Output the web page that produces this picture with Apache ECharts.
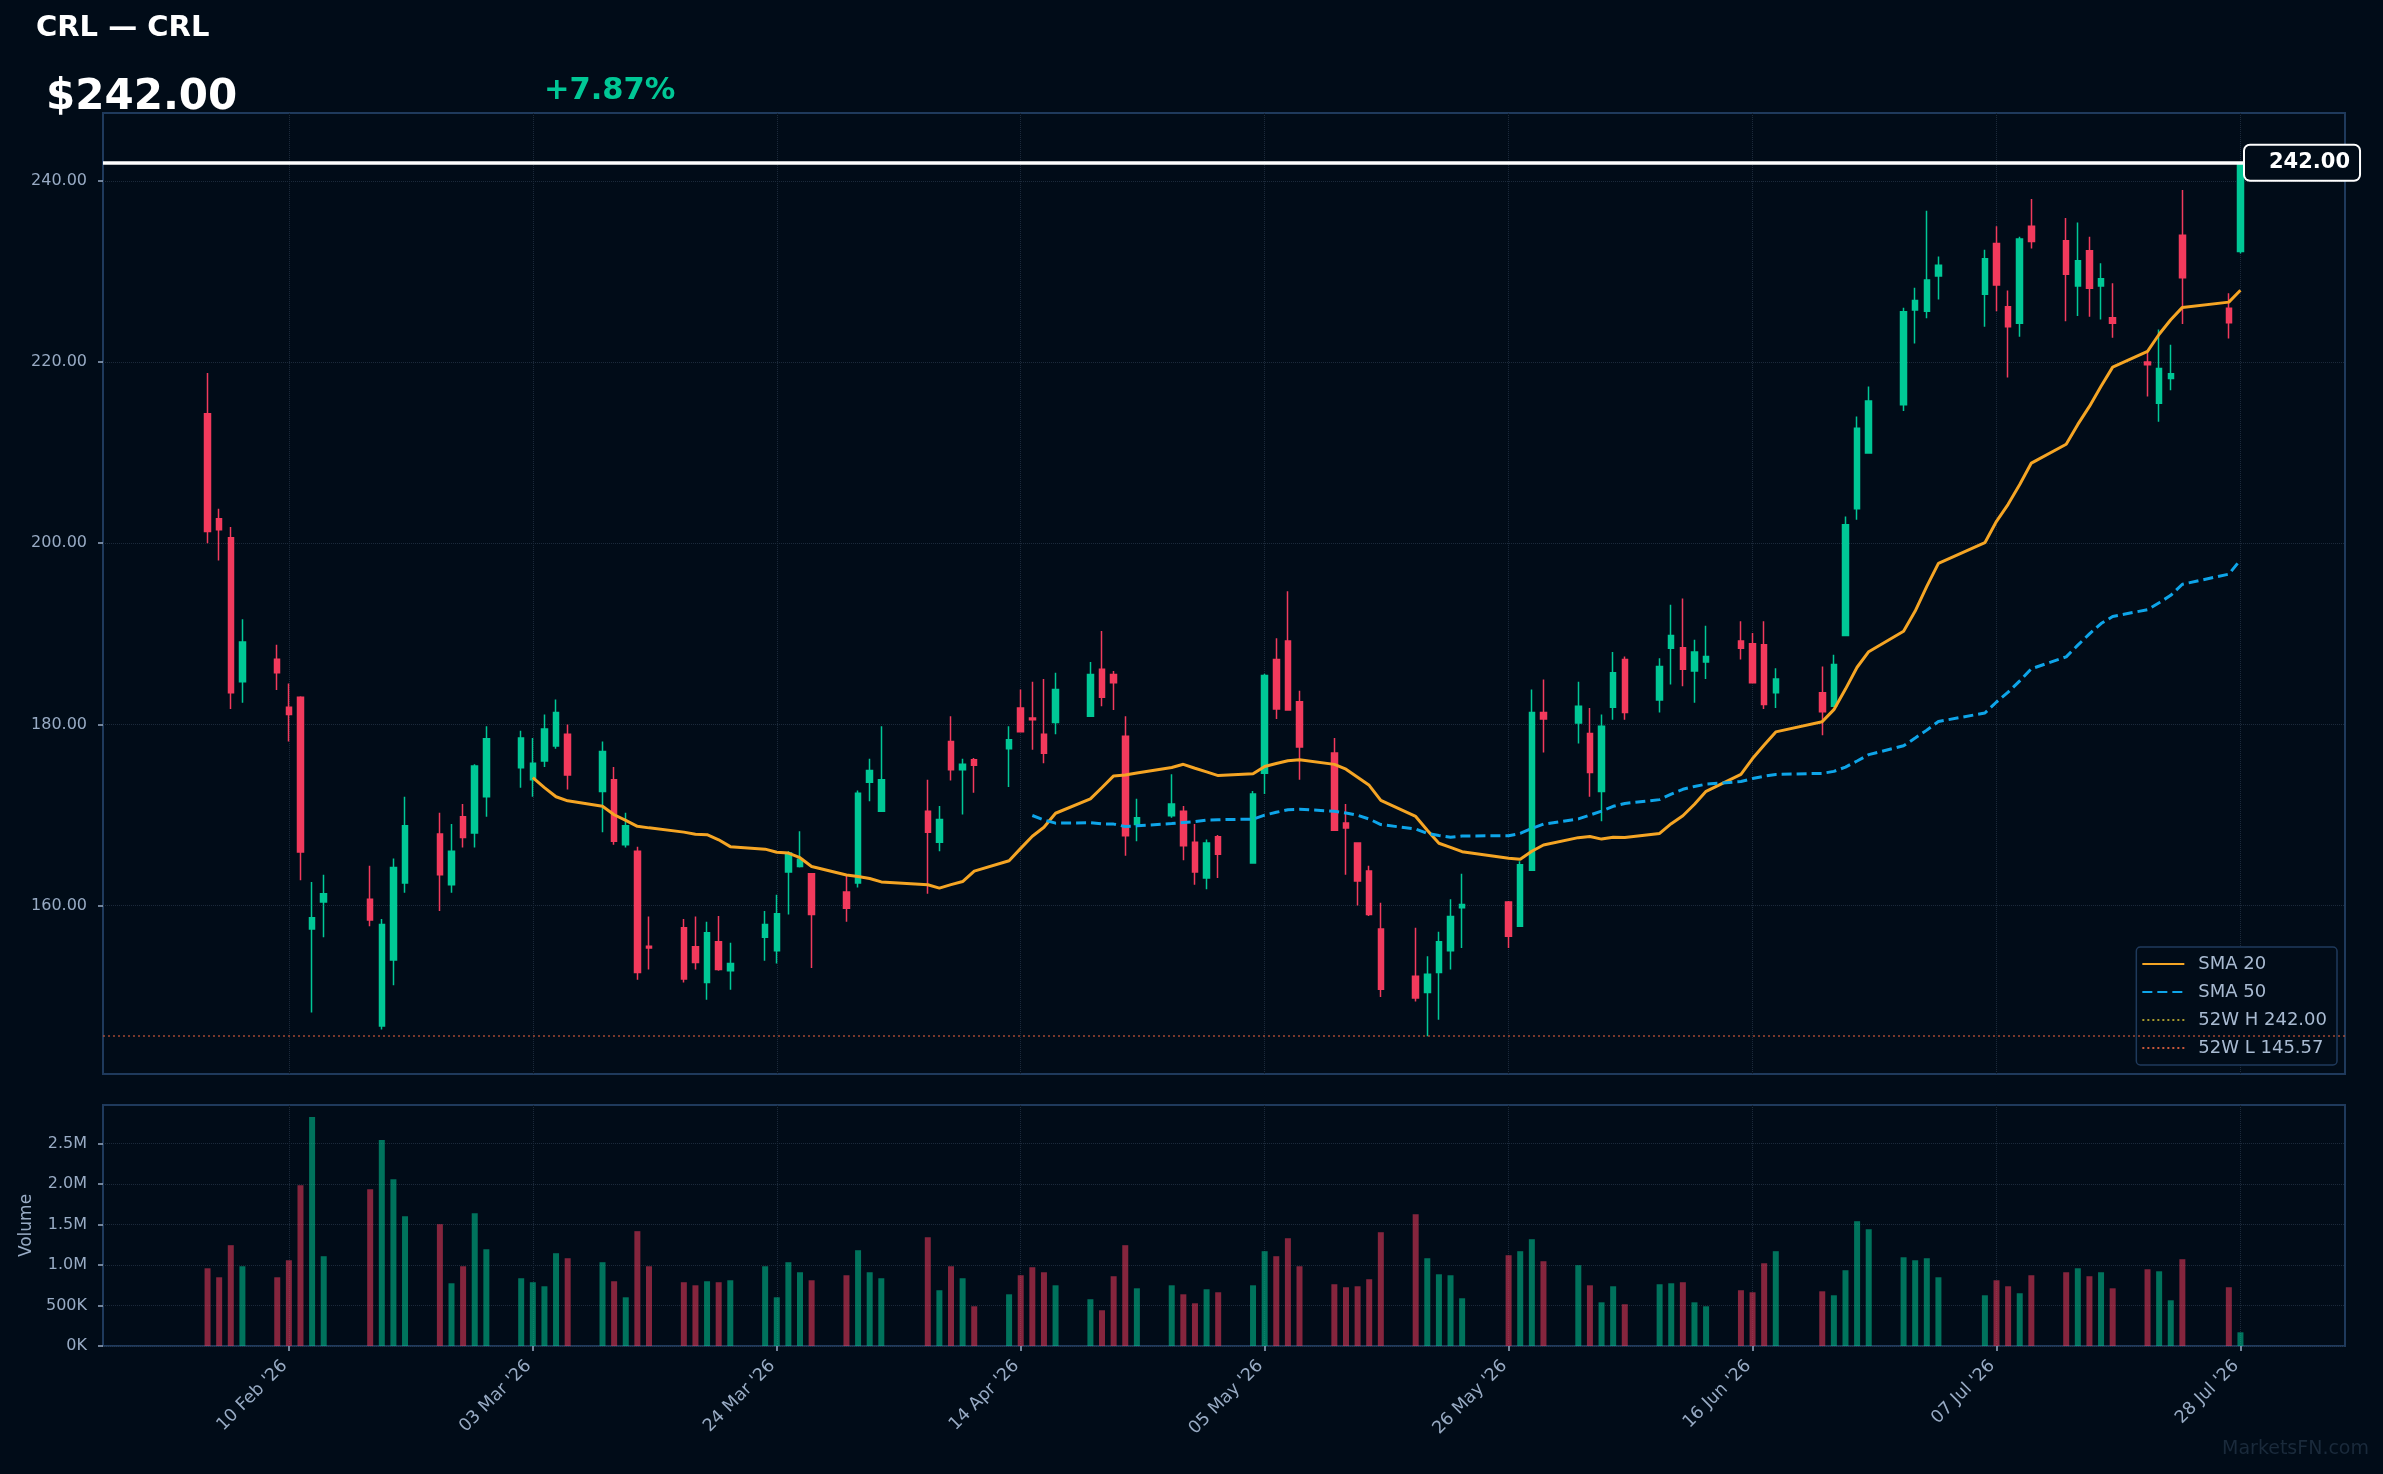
<!DOCTYPE html>
<html>
<head>
<meta charset="utf-8">
<script src="https://cdn.jsdelivr.net/npm/echarts@6/dist/echarts.min.js"></script>
<style>
  html, body { margin: 0; padding: 0; background: #010c18; }
  #main { width: 2383px; height: 1474px; }
</style>
</head>
<body>
<div id="main"></div>
<script>
// trading days shown on the chart
var dates = [
  '2026-02-03','2026-02-04','2026-02-05','2026-02-06',
  '2026-02-09','2026-02-10','2026-02-11','2026-02-12','2026-02-13',
  '2026-02-17','2026-02-18','2026-02-19','2026-02-20',
  '2026-02-23','2026-02-24','2026-02-25','2026-02-26','2026-02-27',
  '2026-03-02','2026-03-03','2026-03-04','2026-03-05','2026-03-06',
  '2026-03-09','2026-03-10','2026-03-11','2026-03-12','2026-03-13',
  '2026-03-16','2026-03-17','2026-03-18','2026-03-19','2026-03-20',
  '2026-03-23','2026-03-24','2026-03-25','2026-03-26','2026-03-27',
  '2026-03-30','2026-03-31','2026-04-01','2026-04-02',
  '2026-04-06','2026-04-07','2026-04-08','2026-04-09','2026-04-10',
  '2026-04-13','2026-04-14','2026-04-15','2026-04-16','2026-04-17',
  '2026-04-20','2026-04-21','2026-04-22','2026-04-23','2026-04-24',
  '2026-04-27','2026-04-28','2026-04-29','2026-04-30','2026-05-01',
  '2026-05-04','2026-05-05','2026-05-06','2026-05-07','2026-05-08',
  '2026-05-11','2026-05-12','2026-05-13','2026-05-14','2026-05-15',
  '2026-05-18','2026-05-19','2026-05-20','2026-05-21','2026-05-22',
  '2026-05-26','2026-05-27','2026-05-28','2026-05-29',
  '2026-06-01','2026-06-02','2026-06-03','2026-06-04','2026-06-05',
  '2026-06-08','2026-06-09','2026-06-10','2026-06-11','2026-06-12',
  '2026-06-15','2026-06-16','2026-06-17','2026-06-18',
  '2026-06-22','2026-06-23','2026-06-24','2026-06-25','2026-06-26',
  '2026-06-29','2026-06-30','2026-07-01','2026-07-02',
  '2026-07-06','2026-07-07','2026-07-08','2026-07-09','2026-07-10',
  '2026-07-13','2026-07-14','2026-07-15','2026-07-16','2026-07-17',
  '2026-07-20','2026-07-21','2026-07-22','2026-07-23',
  '2026-07-27','2026-07-28'
];

var opens = [
  214.3, 202.7, 200.6, 184.7, 187.2, 181.9, 183.0, 157.4, 160.4, 160.7,
  146.7, 154.0, 162.5, 167.9, 162.3, 169.8, 168.0, 172.0, 175.2, 173.9,
  175.95, 177.6, 178.9, 172.6, 173.9, 166.7, 166.0, 155.5, 157.55, 155.45,
  151.5, 156.0, 152.8, 156.5, 155.0, 163.7, 164.3, 163.5, 161.5, 162.5,
  173.6, 170.4, 170.4, 167.0, 178.1, 175.0, 176.1, 177.3, 181.8, 180.7,
  178.9, 180.2, 180.9, 186.1, 185.5, 178.7, 168.95, 169.9, 170.4, 167.0,
  163.05, 167.6, 164.7, 174.6, 187.15, 189.2, 182.5, 176.85, 169.1, 166.9,
  163.8, 157.4, 152.2, 150.4, 152.6, 155.0, 159.75, 160.4, 157.7, 163.9,
  181.3, 180.15, 179.0, 172.6, 181.9, 187.15, 182.7, 188.4, 188.45, 185.9,
  186.9, 189.2, 188.9, 188.8, 183.5, 183.5, 182.0, 189.8, 203.8, 209.95,
  215.3, 225.75, 225.6, 229.5, 227.5, 233.1, 226.1, 224.3, 235.0, 233.4,
  228.4, 232.3, 228.4, 224.9, 220.0, 215.45, 218.2, 234.0, 225.95, 232.2
];

var closes = [
  201.3, 201.5, 183.5, 189.1, 185.7, 181.1, 165.9, 158.65, 161.3, 158.4,
  157.9, 164.2, 168.8, 163.4, 166.0, 167.5, 175.4, 178.4, 178.5, 175.7,
  179.5, 181.3, 174.4, 177.0, 167.1, 168.8, 152.6, 155.3, 151.9, 153.7,
  157.0, 152.95, 153.6, 157.9, 159.1, 165.8, 165.1, 159.0, 159.7, 172.4,
  174.9, 173.9, 168.1, 169.5, 175.0, 175.6, 175.5, 178.3, 179.2, 180.5,
  176.8, 183.85, 185.5, 183.0, 184.6, 167.7, 169.7, 171.2, 166.6, 163.7,
  166.9, 165.65, 172.3, 185.4, 181.7, 181.6, 177.5, 168.3, 168.55, 162.7,
  159.0, 150.75, 149.8, 152.4, 156.0, 158.8, 160.1, 156.6, 164.5, 181.3,
  180.6, 182.0, 174.7, 179.8, 185.7, 181.3, 186.4, 189.8, 186.1, 188.0,
  187.5, 188.4, 184.6, 182.2, 185.0, 181.4, 186.6, 202.05, 212.7, 215.7,
  225.55, 226.8, 229.05, 230.7, 231.4, 228.5, 223.9, 233.6, 233.3, 229.7,
  231.2, 228.15, 229.2, 224.3, 219.7, 219.3, 218.7, 229.3, 224.35, 242.0
];

var lows = [
  200.0, 198.1, 181.7, 182.4, 183.8, 178.1, 162.8, 148.2, 156.5, 157.7,
  146.3, 151.2, 161.4, 159.4, 161.4, 166.4, 166.4, 169.8, 173.0, 172.0,
  175.3, 177.3, 172.8, 168.1, 166.7, 166.4, 151.8, 152.95, 151.5, 152.95,
  149.6, 152.8, 150.7, 153.9, 153.6, 159.0, 164.2, 153.1, 158.2, 162.0,
  171.5, 170.4, 161.3, 166.0, 173.8, 170.05, 172.45, 173.1, 179.1, 177.2,
  175.7, 178.9, 180.9, 182.0, 181.6, 165.5, 167.1, 169.7, 165.0, 162.3,
  161.8, 163.05, 164.7, 172.3, 180.6, 181.6, 173.9, 168.3, 163.4, 160.0,
  158.85, 149.9, 149.4, 145.57, 147.4, 152.95, 155.3, 155.3, 157.7, 163.9,
  176.9, 177.9, 172.0, 169.3, 180.5, 180.5, 181.3, 184.4, 184.2, 182.4,
  185.0, 187.15, 184.5, 181.7, 181.8, 178.8, 182.0, 189.8, 202.6, 209.95,
  214.6, 222.05, 224.85, 226.9, 223.9, 225.6, 218.3, 222.8, 232.55, 224.5,
  225.1, 225.0, 224.7, 222.7, 216.2, 213.4, 216.9, 224.2, 222.6, 232.0
];

var highs = [
  218.8, 203.8, 201.8, 191.6, 188.8, 184.5, 183.1, 162.6, 163.4, 164.4,
  158.5, 165.2, 172.0, 170.25, 169.0, 171.2, 175.6, 179.8, 179.3, 178.5,
  181.1, 182.75, 180.0, 178.1, 175.3, 170.25, 166.5, 158.8, 158.5, 158.8,
  158.2, 158.85, 155.9, 159.4, 161.2, 166.0, 168.2, 163.6, 163.3, 172.7,
  176.2, 179.8, 173.9, 171.0, 180.9, 176.2, 176.3, 179.8, 183.85, 184.7,
  185.0, 185.7, 186.9, 190.3, 185.9, 180.9, 171.8, 174.5, 171.0, 169.0,
  167.3, 167.8, 172.65, 185.6, 189.5, 194.7, 183.7, 178.5, 171.2, 167.0,
  164.4, 160.3, 157.55, 154.4, 157.1, 160.7, 163.5, 160.5, 164.9, 183.85,
  184.95, 184.7, 181.8, 181.1, 188.0, 187.5, 187.3, 193.2, 193.9, 189.35,
  190.9, 191.4, 190.1, 191.4, 186.2, 186.4, 187.7, 202.95, 214.0, 217.3,
  226.0, 228.2, 236.7, 231.65, 232.4, 235.0, 227.9, 233.85, 238.0, 235.9,
  235.4, 233.85, 230.9, 228.7, 221.1, 223.6, 221.9, 239.0, 227.6, 242.0
];

var volumes = [
  959000, 848000, 1244000, 984000, 848000, 1058000, 1985000, 2825000, 1108000, 1935000,
  2541000, 2059000, 1602000, 1503000, 774000, 984000, 1639000, 1194000, 836000, 787000,
  737000, 1145000, 1083000, 1034000, 799000, 601000, 1417000, 984000, 787000, 749000,
  799000, 787000, 811000, 984000, 601000, 1034000, 910000, 811000, 873000, 1182000,
  910000, 836000, 1342000, 688000, 984000, 836000, 490000, 638000, 873000, 972000,
  910000, 749000, 577000, 441000, 861000, 1244000, 712000, 749000, 638000, 527000,
  700000, 663000, 749000, 1170000, 1108000, 1330000, 984000, 762000, 725000, 737000,
  824000, 1404000, 1627000, 1083000, 885000, 873000, 589000, 1120000, 1170000, 1318000,
  1046000, 997000, 749000, 539000, 737000, 515000, 762000, 774000, 787000, 539000,
  490000, 688000, 663000, 1021000, 1170000, 675000, 626000, 935000, 1540000, 1441000,
  1095000, 1058000, 1083000, 848000, 626000, 811000, 737000, 651000, 873000, 910000,
  959000, 861000, 910000, 712000, 947000, 922000, 564000, 1071000, 725000, 169000
];

var tickDates = ['2026-02-10','2026-03-03','2026-03-24','2026-04-14','2026-05-05',
                 '2026-05-26','2026-06-16','2026-07-07','2026-07-28'];
var priceTicks = [160, 180, 200, 220, 240];
var volumeTicks = [0, 500000, 1000000, 1500000, 2000000, 2500000];

var ticker = 'CRL';
var lastPrice = 242.00;
var changePct = 7.87;
var high52 = 242.00;
var low52 = 145.57;

var upColor = '#00c896';
var downColor = '#f23a5c';
var upVol = 'rgba(0,200,150,0.55)';
var downVol = 'rgba(242,58,92,0.55)';
var labelColor = '#98abc4';
var gridColor = '#1c2a3b';
var frameColor = '#1f3a5c';
var bg = '#010c18';

var MONTHS = ['Jan','Feb','Mar','Apr','May','Jun','Jul','Aug','Sep','Oct','Nov','Dec'];

function dayNum(s) {
  var p = s.split('-');
  return Date.UTC(+p[0], +p[1] - 1, +p[2]) / 86400000;
}
function fmtDate(v) {
  var d = new Date(Math.round(v) * 86400000);
  var dd = d.getUTCDate();
  return (dd < 10 ? '0' + dd : dd) + ' ' + MONTHS[d.getUTCMonth()] + " '" + String(d.getUTCFullYear()).slice(2);
}
function fmtVol(v) {
  if (v === 0) return '0K';
  if (v < 1000000) return Math.round(v / 1000) + 'K';
  return (v / 1000000).toFixed(1) + 'M';
}
// simple moving average of the closes
function sma(n) {
  var out = [];
  for (var i = n - 1; i < closes.length; i++) {
    var s = 0;
    for (var j = i - n + 1; j <= i; j++) s += closes[j];
    out.push([xs[i], +(s / n).toFixed(3)]);
  }
  return out;
}

var xs = dates.map(dayNum);
var tickXs = tickDates.map(dayNum);
var xMin = tickXs[0] - 16;
var xMax = tickXs[tickXs.length - 1] + 9;

var candleData = xs.map(function (x, i) {
  return [x, opens[i], closes[i], lows[i], highs[i]];
});
var volData = xs.map(function (x, i) {
  return { value: [x, volumes[i]], itemStyle: { color: closes[i] >= opens[i] ? upVol : downVol } };
});

var chart = echarts.init(document.getElementById('main'));

var option = {
  backgroundColor: bg,
  animation: false,
  textStyle: { fontFamily: 'DejaVu Sans' },
  title: [
    { text: ticker + ' \u2014 ' + ticker, left: 36, top: 14, padding: 0,
      textStyle: { color: '#ffffff', fontSize: 29, fontWeight: 'bold' } },
    { text: '$' + lastPrice.toFixed(2), left: 46, top: 77, padding: 0,
      textStyle: { color: '#ffffff', fontSize: 42, fontWeight: 'bold' } },
    { text: '+' + changePct.toFixed(2) + '%', left: 544, top: 76, padding: 0,
      textStyle: { color: upColor, fontSize: 30.5, fontWeight: 'bold' } },
    { text: 'MarketsFN.com', right: 14, top: 1440, padding: 0,
      textStyle: { color: '#1a2a3b', fontSize: 19, fontWeight: 'normal' } }
  ],
  legend: {
    orient: 'vertical',
    right: 46,
    top: 947,
    padding: [7, 10, 7, 5],
    itemWidth: 42,
    itemHeight: 12,
    itemGap: 8,
    backgroundColor: bg,
    borderColor: frameColor,
    borderWidth: 1.5,
    borderRadius: 4,
    itemStyle: { opacity: 0 },
    textStyle: { color: '#a9bbd2', fontSize: 18, lineHeight: 20, padding: [0, 0, 0, 9] },
    data: ['SMA 20', 'SMA 50', '52W H ' + high52.toFixed(2), '52W L ' + low52.toFixed(2)]
  },
  grid: [
    { left: 103, right: 38, top: 113, height: 961, show: true, backgroundColor: 'transparent',
      borderColor: frameColor, borderWidth: 2 },
    { left: 103, right: 38, top: 1105, height: 241, show: true, backgroundColor: 'transparent',
      borderColor: frameColor, borderWidth: 2 }
  ],
  xAxis: [
    {
      gridIndex: 0, type: 'value', min: xMin, max: xMax,
      axisLine: { show: false },
      axisTick: { show: false, customValues: tickXs },
      axisLabel: { show: false, customValues: tickXs },
      splitLine: { show: true, lineStyle: { color: gridColor, type: 'dotted', width: 1 } }
    },
    {
      gridIndex: 1, type: 'value', min: xMin, max: xMax,
      axisLine: { show: false },
      axisTick: { show: true, length: 5, customValues: tickXs, lineStyle: { color: labelColor, width: 1.5 } },
      axisLabel: { customValues: tickXs, formatter: fmtDate, rotate: 45, margin: 13,
                   padding: [0, 6, 0, 0], color: labelColor, fontSize: 17.5 },
      splitLine: { show: true, lineStyle: { color: gridColor, type: 'dotted', width: 1 } }
    }
  ],
  yAxis: [
    {
      gridIndex: 0, type: 'value', min: 141.4, max: 247.5, scale: true,
      axisLine: { show: false },
      axisTick: { show: true, length: 5, customValues: priceTicks, lineStyle: { color: labelColor, width: 1.5 } },
      axisLabel: { customValues: priceTicks, margin: 16, color: labelColor, fontSize: 16,
                   formatter: function (v) { return v.toFixed(2); } },
      splitLine: { show: true, lineStyle: { color: gridColor, type: 'dotted', width: 1 } }
    },
    {
      gridIndex: 1, type: 'value', min: 0, max: 2974000,
      name: 'Volume', nameLocation: 'middle', nameGap: 64,
      nameTextStyle: { color: labelColor, fontSize: 17 },
      axisLine: { show: false },
      axisTick: { show: true, length: 5, customValues: volumeTicks, lineStyle: { color: labelColor, width: 1.5 } },
      axisLabel: { customValues: volumeTicks, margin: 16, color: labelColor, fontSize: 16, formatter: fmtVol },
      splitLine: { show: true, lineStyle: { color: gridColor, type: 'dotted', width: 1 } }
    }
  ],
  series: [
    {
      name: '52W H ' + high52.toFixed(2), type: 'line', xAxisIndex: 0, yAxisIndex: 0,
      data: [], symbol: 'none',
      lineStyle: { color: '#a89a2c', width: 1.5, type: [2, 3] },
      markLine: {
        silent: true, symbol: ['none', 'none'], label: { show: false },
        lineStyle: { color: '#a89a2c', width: 1.5, type: [2, 3], opacity: 0.8 },
        data: [{ yAxis: high52 }]
      }
    },
    {
      name: '52W L ' + low52.toFixed(2), type: 'line', xAxisIndex: 0, yAxisIndex: 0,
      data: [], symbol: 'none',
      lineStyle: { color: '#c8573a', width: 1.5, type: [2, 3] },
      markLine: {
        silent: true, symbol: ['none', 'none'], label: { show: false },
        lineStyle: { color: '#c8573a', width: 1.5, type: [2, 3], opacity: 0.8 },
        data: [{ yAxis: low52 }]
      }
    },
    {
      name: ticker, type: 'candlestick', xAxisIndex: 0, yAxisIndex: 0,
      data: candleData,
      barWidth: 6,
      itemStyle: {
        color: upColor, color0: downColor,
        borderColor: upColor, borderColor0: downColor, borderWidth: 1.5
      },
      markLine: {
        silent: true, symbol: ['none', 'none'],
        lineStyle: { color: '#ffffff', width: 3.5, type: 'solid' },
        label: {
          show: true, position: 'end', distance: [-100, 0],
          formatter: lastPrice.toFixed(2),
          color: '#ffffff', fontWeight: 'bold', fontSize: 21,
          backgroundColor: bg, borderColor: '#ffffff', borderWidth: 2, borderRadius: 5,
          padding: [7, 9, 6, 24]
        },
        data: [{ yAxis: lastPrice }]
      }
    },
    {
      name: 'SMA 20', type: 'line', xAxisIndex: 0, yAxisIndex: 0,
      data: sma(20), symbol: 'none', smooth: false,
      lineStyle: { color: '#f5a524', width: 3 }
    },
    {
      name: 'SMA 50', type: 'line', xAxisIndex: 0, yAxisIndex: 0,
      data: sma(50), symbol: 'none', smooth: false,
      lineStyle: { color: '#0ea5e9', width: 3, type: [10, 5] }
    },
    {
      name: 'Volume', type: 'bar', xAxisIndex: 1, yAxisIndex: 1,
      data: volData, barWidth: 6
    }
  ]
};

chart.setOption(option);
</script>
</body>
</html>
